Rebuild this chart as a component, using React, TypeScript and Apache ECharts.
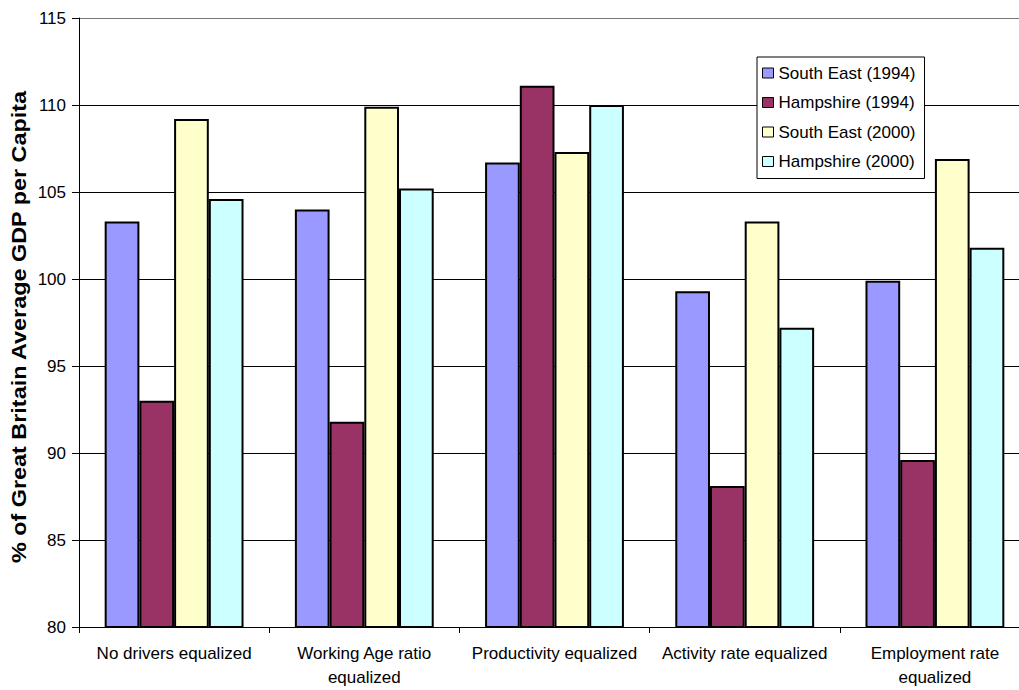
import React, { useEffect, useRef } from "react";
import * as echarts from "echarts";

// Scenario categories along the x axis
const categories = [
  "No drivers equalized",
  "Working Age ratio\nequalized",
  "Productivity equalized",
  "Activity rate equalized",
  "Employment rate\nequalized",
];

// % of Great Britain average GDP per capita
const southEast1994 = [103.3, 104.0, 106.7, 99.3, 99.9];
const hampshire1994 = [93.0, 91.8, 111.1, 88.1, 89.6];
const southEast2000 = [109.2, 109.9, 107.3, 103.3, 106.9];
const hampshire2000 = [104.6, 105.2, 110.0, 97.2, 101.8];

const seriesNames = [
  "South East (1994)",
  "Hampshire (1994)",
  "South East (2000)",
  "Hampshire (2000)",
];
const seriesColors = ["#9999FF", "#993366", "#FFFFCC", "#CCFFFF"];
const seriesValues = [southEast1994, hampshire1994, southEast2000, hampshire2000];

const yTitle = "% of Great Britain Average GDP per Capita";

const FONT = "'Liberation Sans', Arial, Helvetica, sans-serif";

export default function App() {
  const ref = useRef<HTMLDivElement>(null);

  useEffect(() => {
    if (!ref.current) return;
    const chart = echarts.init(ref.current, undefined, { renderer: "svg" });
    chart.setOption({
      animation: false,
      backgroundColor: "#ffffff",
      textStyle: { fontFamily: FONT },
      grid: { left: 79, top: 18, bottom: 63, right: 10, containLabel: false },
      graphic: [
        {
          type: "text",
          x: 19,
          y: 327,
          rotation: Math.PI / 2,
          scaleX: 1.17,
          scaleY: 1,
          style: {
            text: yTitle,
            fontFamily: FONT,
            fontSize: 20,
            fontWeight: "bold",
            fill: "#000000",
            align: "center",
            verticalAlign: "middle",
          },
        },
      ],
      legend: {
        orient: "vertical",
        left: 757,
        top: 57,
        padding: [6, 9, 7, 5],
        backgroundColor: "#ffffff",
        borderColor: "#000000",
        borderWidth: 1,
        borderRadius: 0,
        itemWidth: 11,
        itemHeight: 10,
        itemGap: 9.5,
        icon: "rect",
        itemStyle: { borderColor: "#000000", borderWidth: 1 },
        textStyle: {
          fontFamily: FONT,
          fontSize: 17,
          color: "#000000",
          lineHeight: 20,
        },
        data: seriesNames,
      },
      xAxis: {
        type: "category",
        data: categories,
        axisLine: { show: true, lineStyle: { color: "#000000", width: 1 } },
        axisTick: {
          show: true,
          alignWithLabel: false,
          length: 6,
          lineStyle: { color: "#000000" },
        },
        axisLabel: {
          interval: 0,
          margin: 14,
          fontFamily: FONT,
          fontSize: 17,
          lineHeight: 24,
          color: "#000000",
        },
      },
      yAxis: {
        type: "value",
        min: 80,
        max: 115,
        interval: 5,
        axisLine: { show: true, lineStyle: { color: "#000000", width: 1 } },
        axisTick: {
          show: true,
          inside: false,
          length: 7,
          lineStyle: { color: "#000000" },
        },
        axisLabel: {
          margin: 13,
          fontFamily: FONT,
          fontSize: 17,
          color: "#000000",
        },
        splitLine: {
          show: true,
          lineStyle: {
            color: ["#000", "#000", "#000", "#000", "#000", "#000", "#000", "#777"],
            width: 1,
          },
        },
      },
      series: seriesNames.map((name, i) => ({
        name,
        type: "bar",
        data: seriesValues[i],
        barGap: "0%",
        barCategoryGap: "27%",
        itemStyle: {
          color: seriesColors[i],
          borderColor: "#000000",
          borderWidth: 2,
        },
      })),
    });
    return () => chart.dispose();
  }, []);

  return (
    <div
      style={{
        position: "fixed",
        left: 0,
        top: 0,
        width: 1019,
        height: 690,
        overflow: "hidden",
        background: "#ffffff",
      }}
    >
      <div ref={ref} style={{ width: 1040, height: 690 }} />
    </div>
  );
}
